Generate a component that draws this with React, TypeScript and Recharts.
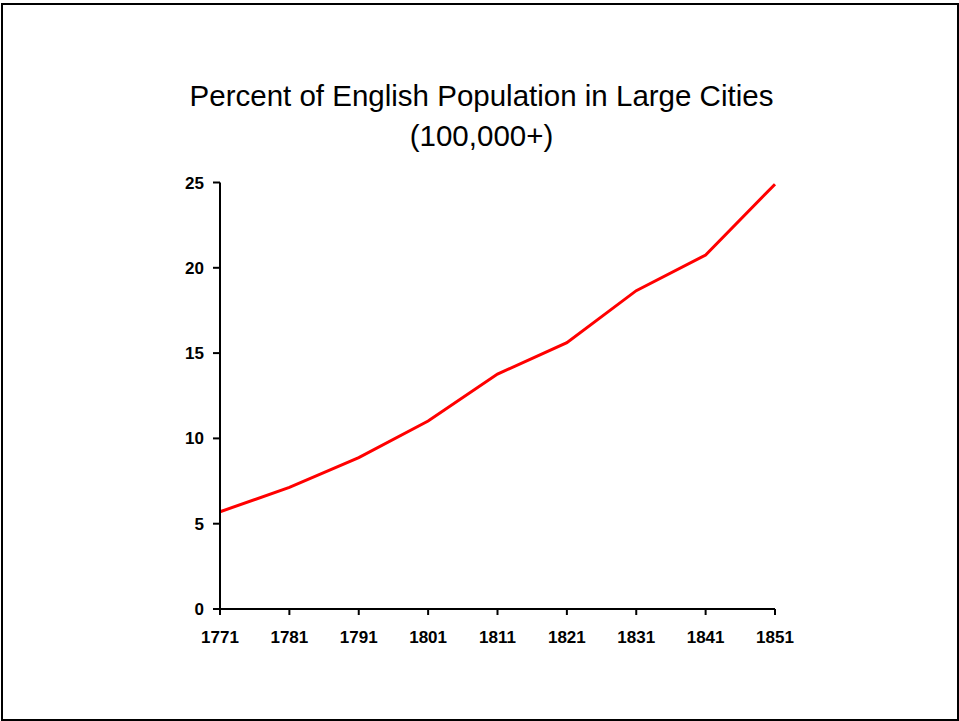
import { Line, LineChart, XAxis, YAxis } from "recharts";

// Share of the English population living in cities of 100,000+
const years = ["1771", "1781", "1791", "1801", "1811", "1821", "1831", "1841", "1851"];
const percentInCities = [5.7, 7.13, 8.87, 11.02, 13.77, 15.61, 18.66, 20.75, 24.9];
const yTicks = [0, 5, 10, 15, 20, 25];

const data = years.map((year, i) => ({ year, percent: percentInCities[i] }));

const FONT = "'Liberation Sans', Arial, sans-serif";

function XTick({ x, y, payload }: any) {
  return (
    <text
      x={x}
      y={y + 26}
      textAnchor="middle"
      fontFamily={FONT}
      fontWeight={700}
      fontSize={17}
      fill="#000"
    >
      {payload.value}
    </text>
  );
}

function YTick({ x, y, payload }: any) {
  return (
    <text
      x={x - 7}
      y={y + 6}
      textAnchor="end"
      fontFamily={FONT}
      fontWeight={700}
      fontSize={17}
      fill="#000"
    >
      {payload.value}
    </text>
  );
}

export default function App() {
  return (
    <div
      style={{
        position: "fixed",
        left: 0,
        top: 0,
        width: 959,
        height: 721,
        background: "#fff",
      }}
    >
      <div
        style={{
          position: "absolute",
          left: 1,
          top: 3,
          width: 958,
          height: 718,
          border: "2px solid #000",
          boxSizing: "border-box",
        }}
      />
      <div
        style={{
          position: "absolute",
          left: 0,
          top: 76,
          width: 963,
          textAlign: "center",
          fontFamily: FONT,
          fontSize: 29.5,
          lineHeight: "40px",
          color: "#000",
        }}
      >
        Percent of English Population in Large Cities
        <br />
        (100,000+)
      </div>
      <div style={{ position: "absolute", left: 0, top: 0 }}>
        <LineChart
          width={959}
          height={721}
          data={data}
          margin={{ top: 182.5, right: 184, bottom: 82, left: 160 }}
        >
          <XAxis
            dataKey="year"
            height={30}
            axisLine={{ stroke: "#000", strokeWidth: 2 }}
            tickLine={{ stroke: "#000", strokeWidth: 2 }}
            tickSize={6}
            tick={<XTick />}
            interval={0}
          />
          <YAxis
            width={60}
            domain={[0, 25]}
            ticks={yTicks}
            axisLine={{ stroke: "#000", strokeWidth: 2 }}
            tickLine={{ stroke: "#000", strokeWidth: 2 }}
            tickSize={7}
            tick={<YTick />}
          />
          <Line
            type="linear"
            dataKey="percent"
            stroke="#ff0000"
            strokeWidth={3}
            dot={false}
            activeDot={false}
            isAnimationActive={false}
          />
        </LineChart>
      </div>
    </div>
  );
}
